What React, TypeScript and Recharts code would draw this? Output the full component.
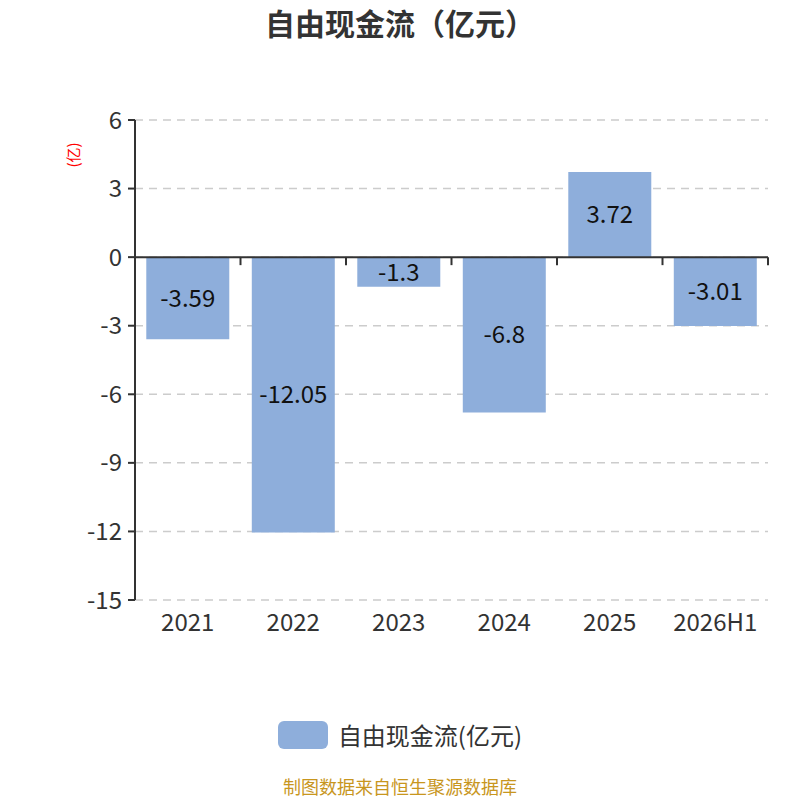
import { BarChart, Bar, XAxis, YAxis, CartesianGrid, ReferenceLine, LabelList } from "recharts";

const years = ["2021", "2022", "2023", "2024", "2025", "2026H1"];
const fcf = [-3.59, -12.05, -1.3, -6.8, 3.72, -3.01];
const yTicks = [-15, -12, -9, -6, -3, 0, 3, 6];

const data = years.map((y, i) => ({ year: y, value: fcf[i] }));

const FONT = '"Noto Sans CJK SC", "Noto Sans", sans-serif';
const BAR = "#8eaedb";

// zero line with tick marks at the category boundaries
const ZeroAxis = (props: any) => {
  const { x1, x2, y1 } = props;
  const n = years.length;
  const step = (x2 - x1) / n;
  const ticks = [];
  for (let i = 0; i <= n; i++) {
    const x = x1 + step * i;
    ticks.push(<line key={i} x1={x} x2={x} y1={y1} y2={y1 + 8} stroke="#333" strokeWidth={2} />);
  }
  return (
    <g>
      <line x1={x1} x2={x2} y1={y1} y2={y1} stroke="#333" strokeWidth={2} />
      {ticks}
    </g>
  );
};

export default function App() {
  return (
    <div style={{ position: "absolute", left: 0, top: 0, width: 800, height: 800, background: "#fff", fontFamily: FONT }}>
      <div style={{ position: "absolute", top: 2, width: 800, textAlign: "center", fontSize: 30, fontWeight: "bold", color: "#333", lineHeight: "40px" }}>
        自由现金流（亿元）
      </div>
      <BarChart
        width={800}
        height={800}
        data={data}
        margin={{ top: 120, right: 32, bottom: 170, left: 75 }}
        barCategoryGap="10.7%"
      >
        <CartesianGrid vertical={false} stroke="#ccc" strokeDasharray="8 6" strokeWidth={1.5} />
        <XAxis
          dataKey="year"
          height={30}
          axisLine={false}
          tickLine={false}
          tick={{ fill: "#333", fontSize: 24, fontFamily: FONT }}
          tickMargin={8}
          interval={0}
        />
        <YAxis
          width={60}
          domain={[-15, 6]}
          ticks={yTicks}
          interval={0}
          axisLine={{ stroke: "#333", strokeWidth: 2 }}
          tickLine={{ stroke: "#333", strokeWidth: 2 }}
          tickSize={7}
          tickMargin={6}
          tick={{ fill: "#333", fontSize: 24, fontFamily: FONT }}
        />
        <Bar dataKey="value" fill={BAR} isAnimationActive={false}>
          <LabelList dataKey="value" position="center" fill="#111" fontSize={24} fontFamily={FONT} />
        </Bar>
        <ReferenceLine y={0} shape={ZeroAxis} />
      </BarChart>
      <div
        style={{
          position: "absolute",
          left: 72,
          top: 155,
          transform: "translate(-50%, -50%) rotate(-90deg)",
          color: "red",
          fontSize: 15,
          whiteSpace: "nowrap",
        }}
      >
        (亿)
      </div>
      <div style={{ position: "absolute", top: 717, width: 800, display: "flex", justifyContent: "center", alignItems: "center" }}>
        <div style={{ width: 50, height: 28, borderRadius: 6, background: BAR, marginRight: 10 }} />
        <span style={{ fontSize: 24, color: "#333" }}>自由现金流(亿元)</span>
      </div>
      <div style={{ position: "absolute", top: 776, width: 800, textAlign: "center", fontSize: 18, color: "#c8961e", lineHeight: "20px" }}>
        制图数据来自恒生聚源数据库
      </div>
    </div>
  );
}
